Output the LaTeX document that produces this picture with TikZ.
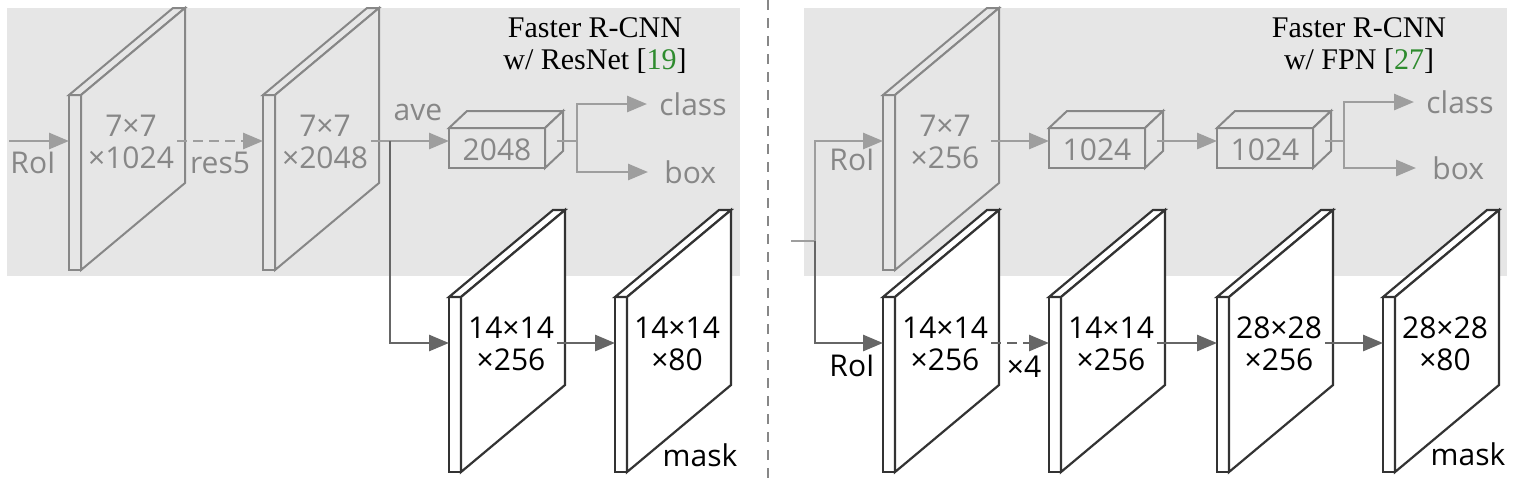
\documentclass[tikz,border=0pt]{standalone}
\usepackage{fontspec}
\setmainfont{Liberation Serif}
\setsansfont{Open Sans}
\usetikzlibrary{arrows.meta,positioning}
\definecolor{panelgray}{HTML}{E6E6E6}
\definecolor{ltgray}{HTML}{9E9E9E}
\definecolor{midgray}{HTML}{878787}
\definecolor{dkgray}{HTML}{666666}
\definecolor{slabline}{HTML}{333333}
\definecolor{citegreen}{HTML}{2E8B2E}
% feature slab: name, x, y (front top-left), style, text
\newcommand{\featslab}[5]{%
  \filldraw[#4] (#2,#3) rectangle ++(12,175);
  \filldraw[#4] (#2,#3) -- ++(104,-87) -- ++(12,0) -- ++(-104,87) -- cycle;
  \filldraw[#4] ({#2+12},#3) -- ++(104,-87) -- ++(0,175) -- ++(-104,87) -- cycle;
  \node[#4,draw=none,fill=none,lbl,align=center] (#1) at ({#2+62},{#3+47}) {#5};
  \coordinate (#1-in) at (#2,{#3+46});
  \coordinate (#1-out) at ({#2+108},{#3+46});
}
% fc layer box: name, x, y (front top-left), text
\newcommand{\fclayer}[4]{%
  \filldraw[topslab] (#2,#3) rectangle ++(96,40);
  \filldraw[topslab] (#2,#3) -- ++(18,-17) -- ++(96,0) -- ++(-18,17) -- cycle;
  \filldraw[topslab] ({#2+96},#3) -- ++(18,-17) -- ++(0,40) -- ++(-18,17) -- cycle;
  \node[toplbl] (#1) at ({#2+48},{#3+22}) {#4};
  \coordinate (#1-in) at (#2,{#3+13});
  \coordinate (#1-out) at ({#2+108},{#3+13});
}
\begin{document}
\begin{tikzpicture}[x=0.5pt,y=-0.5pt,
    lbl/.style={font=\sffamily\fontsize{15}{16}\selectfont,inner sep=1pt},
    toplbl/.style={lbl,text=midgray},
    botlbl/.style={lbl,text=black},
    topslab/.style={draw=midgray,fill=panelgray,line width=1pt,text=midgray},
    botslab/.style={draw=slabline,fill=white,line width=1.1pt,text=black},
    title/.style={font=\fontsize{15}{16}\selectfont,align=center},
    arr/.style={-{Triangle[length=10pt,width=8pt]},line width=1.4pt,ltgray},
    darr/.style={arr,dkgray}]
  \useasboundingbox (0,0) rectangle (1520,478);
  \fill[panelgray] (7,8) rectangle (740,276);
  \fill[panelgray] (804,8) rectangle (1507,276);
  \draw[midgray,line width=0.7pt,dash pattern=on 5pt off 4pt] (768,0) -- (768,478);

  % ResNet head
  \node[title] (ttl1) at (595,46) {Faster R-CNN\\w/ ResNet [\textcolor{citegreen}{19}]};
  \featslab{p1}{69}{95}{topslab}{7×7\\×1024}
  \featslab{p2}{263}{95}{topslab}{7×7\\×2048}
  \fclayer{fc1}{449}{128}{2048}
  \coordinate (roi-src) at (9,141);
  \coordinate (ave-split) at (390,141);
  \coordinate (fc1-split) at (577,141);
  \node[toplbl] (roi1) at (33,163) {RoI};
  \node[toplbl] (res5) at (220,163) {res5};
  \node[toplbl] (ave) at (418,112) {ave};
  \node[toplbl,anchor=west] (cls1) at (657,104) {class};
  \node[toplbl,anchor=west] (box1) at (662,172) {box};
  \draw[arr] (roi-src) -- (p1-in);
  \draw[arr,dash pattern=on 5pt off 3pt] (p1-out) -- (p2-in);
  \draw[arr] (p2-out) -- (fc1-in);
  \draw[ltgray,line width=1.4pt] (fc1-out) -- (fc1-split);
  \draw[arr,shorten >=5pt] (fc1-split) |- (cls1.west);
  \draw[arr,shorten >=7pt] (fc1-split) |- (box1.west);

  \featslab{m1}{449}{297}{botslab}{14×14\\×256}
  \featslab{m2}{615}{297}{botslab}{14×14\\×80}
  \node[botlbl] (mask1) at (700,455) {mask};
  \draw[darr] (ave-split) |- (m1-in);
  \draw[darr] (m1-out) -- (m2-in);

  % FPN head
  \node[title] (ttl2) at (1359,46) {Faster R-CNN\\w/ FPN [\textcolor{citegreen}{27}]};
  \featslab{q1}{883}{95}{topslab}{7×7\\×256}
  \fclayer{fc2}{1049}{128}{1024}
  \fclayer{fc3}{1217}{128}{1024}
  \coordinate (fpn-src) at (791,241);
  \coordinate (fpn-split) at (815,241);
  \coordinate (fc3-split) at (1344,141);
  \node[toplbl] (roi2) at (852,160) {RoI};
  \node[toplbl,anchor=west] (cls2) at (1424,102) {class};
  \node[toplbl,anchor=west] (box2) at (1430,168) {box};
  \draw[ltgray,line width=1.4pt] (fpn-src) -- (fpn-split);
  \draw[arr] (fpn-split) |- (q1-in);
  \draw[arr] (q1-out) -- (fc2-in);
  \draw[arr] (fc2-out) -- (fc3-in);
  \draw[ltgray,line width=1.4pt] (fc3-out) -- (fc3-split);
  \draw[arr,shorten >=5pt] (fc3-split) |- (cls2.west);
  \draw[arr,shorten >=7pt] (fc3-split) |- (box2.west);

  \featslab{r1}{883}{297}{botslab}{14×14\\×256}
  \featslab{r2}{1049}{297}{botslab}{14×14\\×256}
  \featslab{r3}{1217}{297}{botslab}{28×28\\×256}
  \featslab{r4}{1383}{297}{botslab}{28×28\\×80}
  \node[botlbl] (roi3) at (852,366) {RoI};
  \node[botlbl] (times4) at (1024,367) {×4};
  \node[botlbl] (mask2) at (1468,454) {mask};
  \draw[darr] (fpn-split) |- (r1-in);
  \draw[darr,dash pattern=on 5pt off 3pt] (r1-out) -- (r2-in);
  \draw[darr] (r2-out) -- (r3-in);
  \draw[darr] (r3-out) -- (r4-in);
\end{tikzpicture}
\end{document}
